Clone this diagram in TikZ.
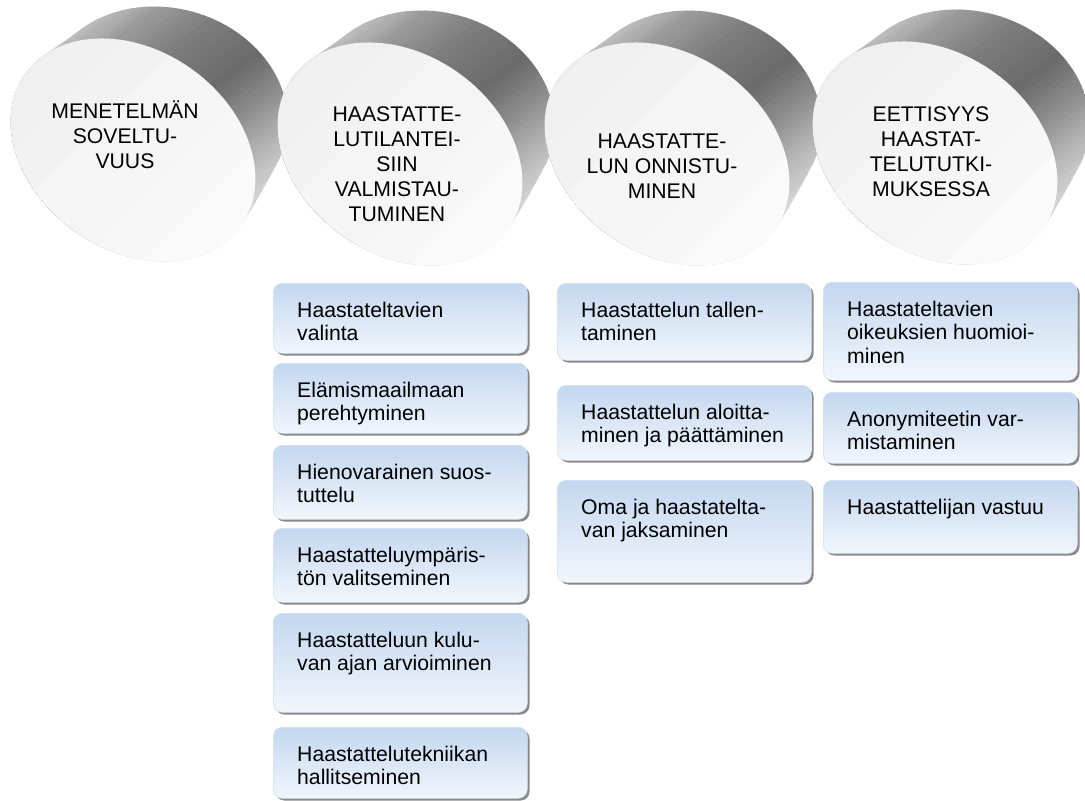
\documentclass[tikz,border=0pt]{standalone}
\usepackage{fontspec}
\setmainfont{Liberation Sans}
\usetikzlibrary{shadows}
\definecolor{boxtop}{HTML}{C3D7F0}
\definecolor{boxbot}{HTML}{F2F6FC}
\definecolor{boxedge}{HTML}{D3E0F1}

% grey bands across a region: #1,#2 centre, #3,#4 unit direction of the
% gradient, #5 a list of  from/to/grey-from/grey-to  steps along it
\newcommand\bands[5]{%
  \foreach \pa/\pb/\ka/\kb in {#5} {
    \foreach \i in {0,...,7} {
      \pgfmathsetmacro\u{(\pa)+((\pb)-(\pa))*\i/8}
      \pgfmathsetmacro\v{(\pa)+((\pb)-(\pa))*(\i+1)/8+0.8}
      \pgfmathtruncatemacro\kk{round((\ka)+((\kb)-(\ka))*(\i+0.5)/8)}
      \fill[black!\kk]
        ({#1+(#3)*(\u)-(#4)*250},{#2+(#4)*(\u)+(#3)*250}) --
        ({#1+(#3)*(\u)+(#4)*250},{#2+(#4)*(\u)-(#3)*250}) --
        ({#1+(#3)*(\v)+(#4)*250},{#2+(#4)*(\v)-(#3)*250}) --
        ({#1+(#3)*(\v)-(#4)*250},{#2+(#4)*(\v)+(#3)*250}) -- cycle;
    }
  }
}

% a drum: side wall swept from the front face up and to the right to a
% slightly turned back face, pale front face, caption
\newcommand\drum[6]{%
  \begin{scope}
    \clip \foreach \k in {0,...,20} {
      ([shift={(\k*1.6,-\k*1.9)}]#2,#3)
        ellipse [x radius={132-0.4*\k}, y radius={100+0.2*\k}, rotate={-35+\k}]
    };
    \bands{#2}{#3}{0.6}{0.8}{-220/-130/14/24, -130/-100/24/39, -100/-60/39/50,
      -60/0/50/58, 0/40/58/44, 40/80/44/28, 80/120/28/15, 120/155/15/8, 155/220/8/4}
  \end{scope}
  \begin{scope}
    \clip (#2,#3) ellipse [x radius=132, y radius=100, rotate=-35];
    \bands{#2}{#3}{0.707}{0.707}{-170/170/7/1}
  \end{scope}
  \node[drumtext] (#1) at (#4,#5) {#6};
}

% a rounded list box with its text set from the top left
\newcommand\listbox[5]{%
  \node[itembox, minimum height={(#4-#3)*1pt}] (#1) at (#2,#3) {};
  \node[itemtext] (#1t) at ([shift={(24pt,-18.5pt)}]#1.north west) {#5};
}

\begin{document}
\begin{tikzpicture}[x=1pt,y=-1pt,
  drumtext/.style={align=center, inner sep=0, font=\fontsize{21.2}{25}\selectfont},
  itembox/.style={anchor=north west, inner sep=0, minimum width=254pt,
    rounded corners=9pt, draw=boxedge, line width=0.6pt,
    top color=boxtop, bottom color=boxbot,
    drop shadow={shadow xshift=2.2pt, shadow yshift=-2.2pt, opacity=0.8, fill=black!58}},
  itemtext/.style={anchor=north west, align=left, inner sep=0, font=\fontsize{21.2}{23.5}\selectfont}
]
\useasboundingbox (0,0) rectangle (1085,801);

\drum{d1}{133}{150}{125}{135}{MENETELMÄN\\SOVELTU-\\VUUS}
\drum{d2}{400}{154}{397}{164}{HAASTATTE-\\LUTILANTEI-\\SIIN\\VALMISTAU-\\TUMINEN}
\drum{d3}{667}{154}{662}{166}{HAASTATTE-\\LUN ONNISTU-\\MINEN}
\drum{d4}{935}{153}{931}{152}{EETTISYYS\\HAASTAT-\\TELUTUTKI-\\MUKSESSA}

\listbox{b21}{273}{283}{353}{Haastateltavien\\valinta}
\listbox{b22}{273}{363}{433}{Elämismaailmaan\\perehtyminen}
\listbox{b23}{273}{445}{519}{Hienovarainen suos-\\tuttelu}
\listbox{b24}{273}{528}{602}{Haastatteluympäris-\\tön valitseminen}
\listbox{b25}{273}{613}{712}{Haastatteluun kulu-\\van ajan arvioiminen}
\listbox{b26}{273}{727}{798}{Haastattelutekniikan\\hallitseminen}

\listbox{b31}{557}{283}{360}{Haastattelun tallen-\\taminen}
\listbox{b32}{557}{385}{460}{Haastattelun aloitta-\\minen ja päättäminen}
\listbox{b33}{557}{480}{582}{Oma ja haastatelta-\\van jaksaminen}

\listbox{b41}{823}{282}{380}{Haastateltavien\\oikeuksien huomioi-\\minen}
\listbox{b42}{823}{392}{463}{Anonymiteetin var-\\mistaminen}
\listbox{b43}{823}{480}{553}{Haastattelijan vastuu}
\end{tikzpicture}
\end{document}
